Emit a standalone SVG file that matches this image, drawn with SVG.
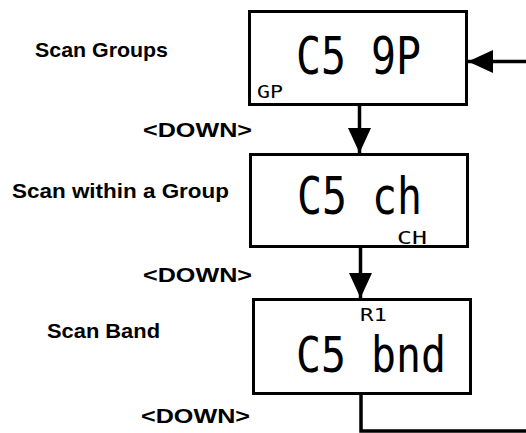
<svg xmlns="http://www.w3.org/2000/svg" width="526" height="433" viewBox="0 0 526 433">
<style>
.box{fill:#fff;stroke:#000;stroke-width:3}
.lbl{font-family:"Liberation Sans",Arial,sans-serif;font-weight:bold;font-size:21px;fill:#000}
.lcd{font-family:"DejaVu Sans Mono",monospace;font-size:52px;fill:#000}
.sm{font-family:"DejaVu Sans Mono",monospace;font-size:18px;fill:#000}
.ln{stroke:#000;stroke-width:3.5;fill:none}
</style>
<defs>
<marker id="ah" viewBox="0 0 25 23" refX="25" refY="11.5" markerWidth="25" markerHeight="23" markerUnits="userSpaceOnUse" orient="auto">
<path d="M0,0 L25,11.5 L0,23 Z" fill="#000"/>
</marker>
</defs>
<rect width="526" height="433" fill="#fff"/>
<g id="labels">
<text class="lbl" x="35" y="57" textLength="133" lengthAdjust="spacingAndGlyphs">Scan Groups</text>
<text class="lbl" x="143" y="137" textLength="109" lengthAdjust="spacingAndGlyphs">&lt;DOWN&gt;</text>
<text class="lbl" x="12" y="198" textLength="217" lengthAdjust="spacingAndGlyphs">Scan within a Group</text>
<text class="lbl" x="143" y="282" textLength="109" lengthAdjust="spacingAndGlyphs">&lt;DOWN&gt;</text>
<text class="lbl" x="47" y="338" textLength="113" lengthAdjust="spacingAndGlyphs">Scan Band</text>
<text class="lbl" x="141" y="423" textLength="109" lengthAdjust="spacingAndGlyphs">&lt;DOWN&gt;</text>
</g>
<g id="node-gp">
<rect class="box" x="249.5" y="11.5" width="217" height="93"/>
<text class="lcd" x="296" y="74" textLength="125" lengthAdjust="spacingAndGlyphs">C5 9P</text>
<text class="sm" x="257" y="98" textLength="26" lengthAdjust="spacingAndGlyphs">GP</text>
</g>
<g id="node-ch">
<rect class="box" x="250.5" y="154.5" width="217" height="92"/>
<text class="lcd" x="297" y="214" textLength="125" lengthAdjust="spacingAndGlyphs">C5 ch</text>
<text class="sm" x="397" y="244" textLength="30" lengthAdjust="spacingAndGlyphs">CH</text>
</g>
<g id="node-bnd">
<rect class="box" x="253.5" y="299.5" width="217" height="94"/>
<text class="sm" x="360" y="321" textLength="27" lengthAdjust="spacingAndGlyphs">R1</text>
<text class="lcd" x="296" y="372" textLength="150" lengthAdjust="spacingAndGlyphs" style="font-size:50px">C5 bnd</text>
</g>
<g id="connectors">
<line class="ln" x1="526" y1="61.5" x2="468" y2="61.5" marker-end="url(#ah)"/>
<line class="ln" x1="359.5" y1="106" x2="359.5" y2="153" marker-end="url(#ah)"/>
<line class="ln" x1="360.5" y1="248" x2="360.5" y2="298" marker-end="url(#ah)"/>
<polyline class="ln" points="361,395 361,431 526,431"/>
</g>
</svg>
